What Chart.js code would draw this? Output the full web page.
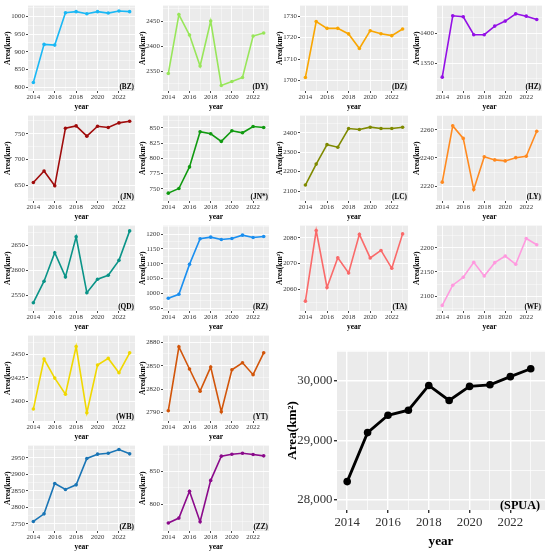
<!DOCTYPE html>
<html>
<head>
<meta charset="utf-8">
<script src="https://cdn.jsdelivr.net/npm/chart.js@4.4.0/dist/chart.umd.min.js"></script>
<style>
  body { margin: 0; background: #fff; width: 550px; height: 554px; overflow: hidden; }
</style>
</head>
<body>
<script>
// values (km2 per year)
const years = [2014, 2015, 2016, 2017, 2018, 2019, 2020, 2021, 2022, 2023];
const xTickLabels = ['2014', '2016', '2018', '2020', '2022'];

const bz = [814, 921, 919, 1010, 1013, 1007, 1013, 1009, 1015, 1013];
const dy = [2345, 2463, 2422, 2360, 2450, 2321, 2329, 2337, 2420, 2426];
const dz = [1701.4, 1727.5, 1724.3, 1724.3, 1721.7, 1714.9, 1723.2, 1721.8, 1720.9, 1724.0];
const hz = [1327.7, 1428.3, 1426.6, 1397.3, 1397.3, 1411.4, 1419.6, 1431.5, 1427.7, 1422.3];
const jn = [655.8, 678.2, 649.4, 760.9, 765.4, 745.5, 764.7, 762.2, 771.2, 774.4];
const jnStar = [742.9, 750.5, 785.9, 843.5, 840.2, 827.7, 845.1, 841.8, 852.2, 850.5];
const lc = [2131, 2239, 2339, 2326, 2422, 2417, 2429, 2422, 2422, 2429];
const ly = [2222.8, 2262.8, 2253.9, 2217.6, 2240.9, 2238.6, 2237.9, 2240.2, 2241.2, 2259.0];
const qd = [2535.5, 2578.3, 2634.9, 2586.8, 2666.4, 2555.3, 2582.2, 2590.1, 2619.7, 2678.3];
const rz = [983.2, 996.6, 1097.8, 1184.3, 1189.9, 1182.0, 1185.4, 1196.6, 1188.8, 1192.2];
const ta = [2055.5, 2082.8, 2060.8, 2072.3, 2066.4, 2081.3, 2072.2, 2075.1, 2068.2, 2081.5];
const wf = [2080.8, 2122.6, 2139.0, 2169.9, 2141.8, 2169.2, 2182.9, 2165.8, 2219.2, 2206.2];
const wh = [2392.0, 2444.8, 2424.7, 2407.7, 2458.0, 2388.1, 2438.5, 2445.5, 2430.4, 2451.4];
const yt = [2792.5, 2874.1, 2845.8, 2817.5, 2848.3, 2791.3, 2844.9, 2853.8, 2838.6, 2866.5];
const zb = [2757, 2780, 2872, 2854, 2868, 2948, 2961, 2964, 2975, 2962];
const zz = [772.3, 779.7, 819.8, 774.3, 836.1, 872.3, 875.2, 876.7, 874.8, 872.8];
const spua = [28307, 29131, 29422, 29507, 29923, 29671, 29907, 29934, 30071, 30203];

// panel grid (plot area edges in px)
const cols = [[28, 135], [163, 269], [300, 408], [437, 542]];
const rows = [[5, 91], [115, 201], [225, 311], [335, 421], [445, 531]];

const panels = [
  {name: 'BZ', values: bz, color: '#1AB8F5', step: 50, min: 790, max: 1030, row: 0, col: 0},
  {name: 'DY', values: dy, color: '#98E65A', step: 50, min: 2310, max: 2481, row: 0, col: 1},
  {name: 'DZ', values: dz, color: '#F9A602', step: 10, min: 1695.1, max: 1734.9, row: 0, col: 2},
  {name: 'HZ', values: hz, color: '#9410E6', step: 50, min: 1305, max: 1445, row: 0, col: 3},
  {name: 'JN', values: jn, color: '#A00C0C', step: 50, min: 620, max: 785.3, row: 1, col: 0},
  {name: 'JN*', values: jnStar, color: '#109A10', step: 25, min: 730, max: 870, row: 1, col: 1},
  {name: 'LC', values: lc, color: '#7F8A00', step: 100, min: 2049, max: 2488.6, row: 1, col: 2},
  {name: 'LY', values: ly, color: '#FF8A20', step: 20, min: 2209.4, max: 2270.1, row: 1, col: 3},
  {name: 'QD', values: qd, color: '#0A9488', step: 50, min: 2519, max: 2688.8, row: 2, col: 0},
  {name: 'RZ', values: rz, color: '#1A8FF0', step: 50, min: 940, max: 1229, row: 2, col: 1},
  {name: 'TA', values: ta, color: '#FA6A6A', step: 10, min: 2051.7, max: 2084.7, row: 2, col: 2},
  {name: 'WF', values: wf, color: '#FF9ADF', step: 50, min: 2069.2, max: 2245.9, row: 2, col: 3},
  {name: 'WH', values: wh, color: '#F0D800', step: 25, min: 2379.4, max: 2469.6, row: 3, col: 0},
  {name: 'YT', values: yt, color: '#D2550A', step: 30, min: 2779.4, max: 2888.5, row: 3, col: 1},
  {name: 'ZB', values: zb, color: '#1A75B5', step: 50, min: 2728, max: 2987, row: 4, col: 0},
  {name: 'ZZ', values: zz, color: '#8B0A8B', step: 50, min: 760.4, max: 888.1, row: 4, col: 1}
];

const small = {
  yw: 28, xh: 22, padT: 4, padR: 4,
  tick: 6.8, title: 7.5, label: 7.3, tl: 2, yPad: 1.2, xPad: 0.6,
  yTitlePad: 4, xTitlePad: 2.2, point: 1.8, line: 1.6, labelDx: 1, labelDy: 3.8,
  xMin: 2013.5, xMax: 2023.5, comma: false
};
const big = {
  yw: 53, xh: 44, padT: 4, padR: 5,
  tick: 12.8, title: 13.2, label: 12.2, tl: 3, yPad: 1.5, xPad: 3.5,
  yTitlePad: 1.5, xTitlePad: 5.5, point: 3.8, line: 2.8, labelDx: 5, labelDy: 4.5,
  xMin: 2013.5, xMax: 2023.7, comma: true
};

const SERIF = "'Liberation Serif', 'DejaVu Serif', serif";

// grey panel and the (XX) tag in the corner
const panelPlugin = {
  id: 'panelTag',
  beforeDraw(chart) {
    const {ctx, chartArea: a} = chart;
    ctx.save();
    ctx.fillStyle = '#EBEBEB';
    ctx.fillRect(a.left, a.top, a.right - a.left, a.bottom - a.top);
    ctx.restore();
  },
  afterDraw(chart, args, opts) {
    const {ctx, chartArea: a} = chart;
    ctx.save();
    ctx.font = 'bold ' + opts.size + 'px ' + SERIF;
    ctx.fillStyle = '#000';
    ctx.textAlign = 'right';
    ctx.textBaseline = 'middle';
    ctx.fillText(opts.text, a.right - opts.dx, a.bottom - opts.dy);
    ctx.restore();
  }
};

function yTicks(min, max, step) {
  const half = step / 2, out = [];
  for (let v = Math.ceil(min / half - 1e-9) * half; v <= max + 1e-9; v += half) {
    const major = Math.abs(v / step - Math.round(v / step)) < 1e-6;
    out.push({value: v, minor: !major});
  }
  return out;
}

function xTicks() {
  return years.map(y => ({value: y, minor: !xTickLabels.includes(String(y))}));
}

function gridWidth(big) {
  return c => (c.tick && c.tick.minor) ? (big ? 0.7 : 0.4) : (big ? 1.4 : 0.9);
}
function tickColor(c) {
  return (c.tick && c.tick.minor) ? 'rgba(0,0,0,0)' : '#333';
}

function drawPanel(name, values, color, yMin, yMax, step, box, s) {
  const [L, R] = box.x, [T, B] = box.y;
  const w = R - L + s.yw + s.padR, h = B - T + s.padT + s.xh;
  const canvas = document.createElement('canvas');
  canvas.width = w;
  canvas.height = h;
  canvas.style.cssText = 'position:absolute;left:' + (L - s.yw) + 'px;top:' + (T - s.padT) +
    'px;width:' + w + 'px;height:' + h + 'px';
  document.body.appendChild(canvas);

  const isBig = s === big;
  new Chart(canvas, {
    type: 'line',
    data: {
      datasets: [{
        data: years.map((yr, i) => ({x: yr, y: values[i]})),
        borderColor: color,
        backgroundColor: color,
        borderWidth: s.line,
        pointRadius: s.point,
        pointBackgroundColor: color,
        pointBorderWidth: 0,
        tension: 0
      }]
    },
    options: {
      responsive: false,
      animation: false,
      devicePixelRatio: 1,
      layout: {padding: {top: s.padT, right: s.padR, left: 0, bottom: 0}},
      plugins: {
        legend: {display: false},
        tooltip: {enabled: false},
        panelTag: {text: '(' + name + ')', size: s.label, dx: s.labelDx, dy: s.labelDy}
      },
      scales: {
        x: {
          type: 'linear',
          min: s.xMin,
          max: s.xMax,
          bounds: 'data',
          afterBuildTicks: axis => { axis.ticks = xTicks(); },
          afterFit: axis => { axis.height = s.xh; },
          border: {display: false},
          grid: {color: '#FFFFFF', lineWidth: gridWidth(isBig), tickColor: tickColor, tickLength: s.tl, drawTicks: true},
          ticks: {
            autoSkip: false, maxRotation: 0, padding: s.xPad, color: '#333',
            font: {family: SERIF, size: s.tick, lineHeight: 1},
            callback: (v, i, t) => t[i].minor ? '' : String(v)
          },
          title: {
            display: true, text: 'year', color: '#000',
            font: {family: SERIF, size: s.title, weight: 'bold', lineHeight: 1},
            padding: {top: 0, bottom: s.xTitlePad}
          }
        },
        y: {
          type: 'linear',
          min: yMin,
          max: yMax,
          bounds: 'data',
          afterBuildTicks: axis => { axis.ticks = yTicks(yMin, yMax, step); },
          afterFit: axis => { axis.width = s.yw; },
          border: {display: false},
          grid: {color: '#FFFFFF', lineWidth: gridWidth(isBig), tickColor: tickColor, tickLength: s.tl, drawTicks: true},
          ticks: {
            autoSkip: false, padding: s.yPad, color: '#333',
            font: {family: SERIF, size: s.tick, lineHeight: 1},
            callback: (v, i, t) => t[i].minor ? '' : (s.comma ? v.toLocaleString('en-US') : String(v))
          },
          title: {
            display: true, text: 'Area(km²)', color: '#000',
            font: {family: SERIF, size: s.title, weight: 'bold', lineHeight: 1},
            padding: {top: s.yTitlePad, bottom: 0}
          }
        }
      }
    },
    plugins: [panelPlugin]
  });
}

panels.forEach(p => {
  drawPanel(p.name, p.values, p.color, p.min, p.max, p.step,
    {x: cols[p.col], y: rows[p.row]}, small);
});

// the big summary panel
drawPanel('SPUA', spua, '#000000', 27830, 30504, 1000, {x: [337, 545], y: [347, 510]}, big);
</script>
</body>
</html>
